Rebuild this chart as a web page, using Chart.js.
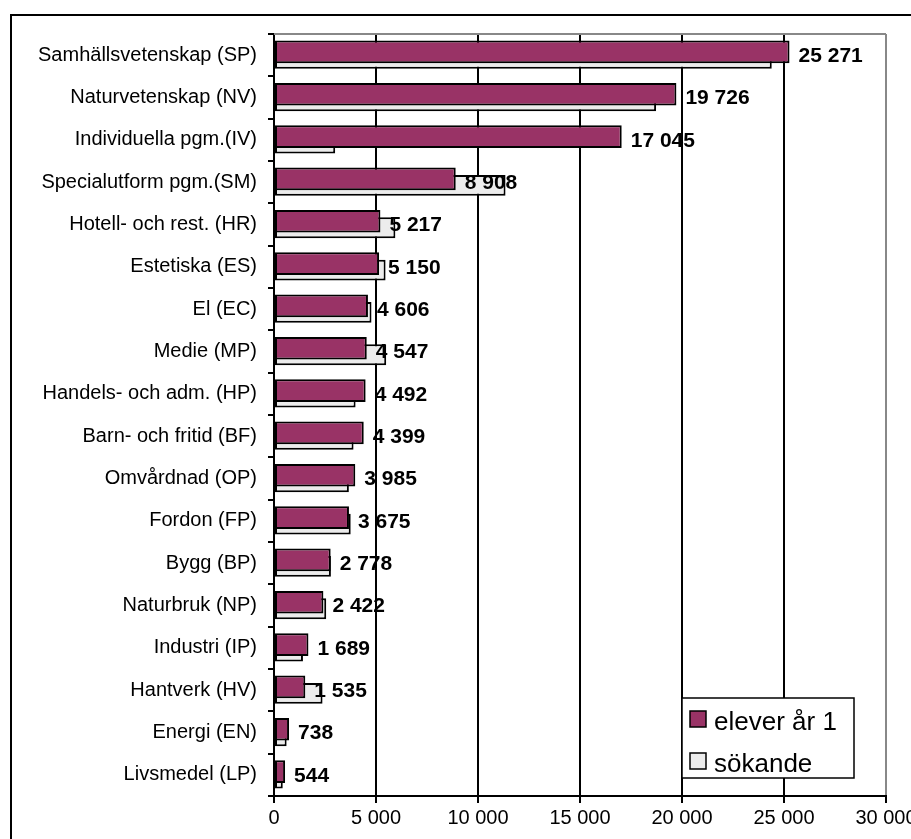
<!DOCTYPE html>
<html>
<head>
<meta charset="utf-8">
<script src="https://cdn.jsdelivr.net/npm/chart.js@4/dist/chart.umd.min.js"></script>
<style>
  html, body { margin: 0; padding: 0; background: #fff; overflow: hidden; }
  #wrap { width: 911px; height: 839px; overflow: hidden; }
  canvas { display: block; }
</style>
</head>
<body>
<div id="wrap"><canvas id="myChart" width="940" height="839" style="width:940px;height:839px"></canvas></div>
<script>
// Data
const programs = [
  "Samhällsvetenskap (SP)", "Naturvetenskap (NV)", "Individuella pgm.(IV)",
  "Specialutform pgm.(SM)", "Hotell- och rest. (HR)", "Estetiska (ES)",
  "El (EC)", "Medie (MP)", "Handels- och adm. (HP)", "Barn- och fritid (BF)",
  "Omvårdnad (OP)", "Fordon (FP)", "Bygg (BP)", "Naturbruk (NP)",
  "Industri (IP)", "Hantverk (HV)", "Energi (EN)", "Livsmedel (LP)"
];
const eleverAr1 = [25271, 19726, 17045, 8908, 5217, 5150, 4606, 4547, 4492,
                   4399, 3985, 3675, 2778, 2422, 1689, 1535, 738, 544];
const sokande = [24400, 18730, 3000, 11350, 5950, 5470, 4780, 5500, 4000,
                 3900, 3670, 3760, 2790, 2560, 1420, 2380, 620, 430];
const xTicks = [0, 5000, 10000, 15000, 20000, 25000, 30000];

const FONT = "'Liberation Sans', Arial, sans-serif";
Chart.defaults.color = '#000';
Chart.defaults.font.family = FONT;

function fmt(v) {
  return String(v).replace(/\B(?=(\d{3})+(?!\d))/g, ' ');
}

// white page + outer frame
const framePlugin = {
  id: 'frame',
  beforeDraw(chart) {
    const ctx = chart.ctx;
    ctx.save();
    ctx.fillStyle = '#fff';
    ctx.fillRect(0, 0, chart.width, chart.height);
    ctx.strokeStyle = '#000';
    ctx.lineWidth = 2;
    ctx.strokeRect(11, 15, 1000, 1000);
    ctx.restore();
  },
  beforeDatasetsDraw(chart) {
    const a = chart.chartArea, ctx = chart.ctx;
    ctx.save();
    ctx.strokeStyle = '#888';
    ctx.lineWidth = 2;
    ctx.beginPath();
    ctx.moveTo(a.left, a.top);
    ctx.lineTo(a.right, a.top);
    ctx.stroke();
    ctx.restore();
  }
};

// bold value labels for the first series
const valueLabels = {
  id: 'valueLabels',
  afterDatasetsDraw(chart) {
    const ctx = chart.ctx;
    const meta = chart.getDatasetMeta(0);
    const yScale = chart.scales.y;
    ctx.save();
    ctx.font = 'bold 21px ' + FONT;
    ctx.fillStyle = '#000';
    ctx.textAlign = 'left';
    ctx.textBaseline = 'middle';
    meta.data.forEach((bar, i) => {
      ctx.fillText(fmt(eleverAr1[i]), bar.x + 9, yScale.getPixelForValue(i) + 1);
    });
    ctx.restore();
  }
};

// legend box inside the plot
const boxLegend = {
  id: 'boxLegend',
  afterDraw(chart) {
    const ctx = chart.ctx;
    ctx.save();
    ctx.fillStyle = '#fff';
    ctx.fillRect(682, 698, 172, 80);
    ctx.strokeStyle = '#000';
    ctx.lineWidth = 1.5;
    ctx.strokeRect(682, 698, 172, 80);
    ctx.font = '26px ' + FONT;
    ctx.textAlign = 'left';
    ctx.textBaseline = 'alphabetic';
    chart.data.datasets.forEach((ds, i) => {
      const y = 711 + i * 42;
      ctx.fillStyle = ds.backgroundColor;
      ctx.fillRect(690, y, 16, 16);
      ctx.strokeStyle = '#000';
      ctx.lineWidth = 1.5;
      ctx.strokeRect(690, y, 16, 16);
      ctx.fillStyle = '#000';
      ctx.fillText(ds.label, 714, y + 19);
    });
    ctx.restore();
  }
};

const ctx = document.getElementById('myChart').getContext('2d');
new Chart(ctx, {
  type: 'bar',
  data: {
    labels: programs,
    datasets: [
      {
        label: 'elever år 1',
        data: eleverAr1,
        backgroundColor: '#993366',
        borderColor: '#000',
        borderWidth: 2,
        borderSkipped: false,
        categoryPercentage: 0.307,
        barPercentage: 3.5
      },
      {
        label: 'sökande',
        data: sokande,
        backgroundColor: '#ececec',
        borderColor: '#000',
        borderWidth: 2,
        borderSkipped: false,
        categoryPercentage: 0.307,
        barPercentage: 3.2
      }
    ]
  },
  options: {
    indexAxis: 'y',
    responsive: false,
    animation: false,
    devicePixelRatio: 1,
    layout: { padding: { left: 0, top: 34, right: 54, bottom: 0 } },
    plugins: {
      legend: { display: false },
      tooltip: { enabled: false }
    },
    scales: {
      x: {
        min: 0,
        max: 30000,
        afterBuildTicks(scale) { scale.ticks = xTicks.map(v => ({ value: v })); },
        afterFit(scale) { scale.height = 43; },
        ticks: {
          font: { size: 20 },
          padding: 3,
          maxRotation: 0,
          autoSkip: false,
          callback: v => fmt(v)
        },
        grid: {
          color: c => (c.tick && c.tick.value === 30000) ? '#888' : '#000',
          lineWidth: 2,
          tickLength: 7,
          tickColor: '#000'
        },
        border: { color: '#000', width: 2 }
      },
      y: {
        afterFit(scale) { scale.width = 274; },
        ticks: { font: { size: 20 }, padding: 11, autoSkip: false },
        grid: {
          drawOnChartArea: false,
          offset: true,
          tickLength: 6,
          color: '#000',
          lineWidth: 2
        },
        border: { color: '#000', width: 2 }
      }
    }
  },
  plugins: [framePlugin, valueLabels, boxLegend]
});
</script>
</body>
</html>
